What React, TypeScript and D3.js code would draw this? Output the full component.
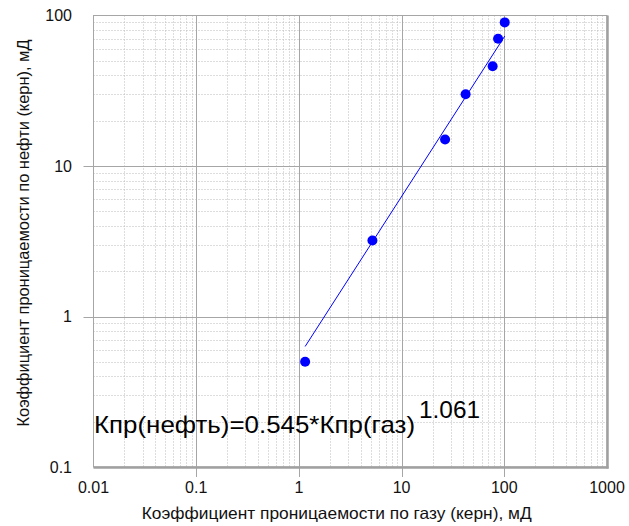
import React from "react";
import * as d3 from "d3";

const gasPerm = [1.15, 5.2, 26.5, 42, 77, 87, 101];
const oilPerm = [0.5, 3.2, 15, 30, 46, 70, 90];
const xTickLabels = ["0.01", "0.1", "1", "10", "100", "1000"];
const yTickLabels = ["0.1", "1", "10", "100"];
const coefA = 0.545;
const coefB = 1.061;
const formulaMain = "Кпр(нефть)=0.545*Кпр(газ)";
const formulaExp = "1.061";
const xTitle = "Коэффициент проницаемости по газу (керн), мД";
const yTitle = "Коэффициент проницаемости по нефти (керн), мД";

const W = 629;
const H = 526;
const left = 93.5;
const right = 607;
const top = 15.5;
const bottom = 467;
const font = "'Liberation Sans', Arial, sans-serif";
const gridCol = "#a6a6a6";
const dotCol = "#bababa";

export default function App() {
  const x = d3.scaleLog().domain([0.01, 1000]).range([left, right]);
  const y = d3.scaleLog().domain([0.1, 100]).range([bottom, top]);

  const xVals = xTickLabels.map(Number);
  const yVals = yTickLabels.map(Number);

  const minorX: number[] = [];
  for (let i = 0; i < xVals.length - 1; i++)
    for (let k = 2; k <= 9; k++) minorX.push(xVals[i] * k);
  const minorY: number[] = [];
  for (let i = 0; i < yVals.length - 1; i++)
    for (let k = 2; k <= 9; k++) minorY.push(yVals[i] * k);

  const xMin = d3.min(gasPerm) as number;
  const xMax = d3.max(gasPerm) as number;
  const fitX = [xMin, xMax];
  const line = d3
    .line<number>()
    .x((d) => x(d))
    .y((d) => y(coefA * Math.pow(d, coefB)));

  return (
    <svg width={W} height={H} style={{ position: "absolute", left: 0, top: 0, background: "#fff" }}>
      <rect x={0} y={0} width={W} height={H} fill="#fff" />
      {/* minor grid */}
      {minorX.map((v, i) => (
        <line key={"mx" + i} x1={Math.round(x(v)) + 0.5} x2={Math.round(x(v)) + 0.5} y1={top} y2={bottom}
          stroke={dotCol} strokeWidth={1} strokeDasharray="1,2" />
      ))}
      {minorY.map((v, i) => (
        <line key={"my" + i} y1={Math.round(y(v)) + 0.5} y2={Math.round(y(v)) + 0.5} x1={left} x2={right}
          stroke={dotCol} strokeWidth={1} strokeDasharray="1,2" />
      ))}
      {/* major grid + ticks */}
      {xVals.slice(1, -1).map((v, i) => (
        <line key={"Mx" + i} x1={Math.round(x(v)) + 0.5} x2={Math.round(x(v)) + 0.5} y1={top} y2={bottom + 10}
          stroke={gridCol} strokeWidth={1} />
      ))}
      {yVals.slice(1, -1).map((v, i) => (
        <line key={"My" + i} y1={Math.round(y(v)) + 0.5} y2={Math.round(y(v)) + 0.5} x1={left - 10} x2={right}
          stroke={gridCol} strokeWidth={1} />
      ))}
      {/* frame */}
      <rect x={left} y={top} width={right - left} height={bottom - top} fill="none" stroke={gridCol} strokeWidth={1} />
      <line x1={left} x2={right + 1.5} y1={bottom + 0.5} y2={bottom + 0.5} stroke="#a0a0a0" strokeWidth={2.5} />
      <line x1={right + 0.5} x2={right + 0.5} y1={top} y2={bottom + 1.5} stroke="#a0a0a0" strokeWidth={2.5} />

      {/* tick labels */}
      {xVals.map((v, i) => (
        <text key={"xl" + i} x={x(v)} y={493} textAnchor="middle" fontFamily={font} fontSize={16} fill="#111">
          {xTickLabels[i]}
        </text>
      ))}
      {yVals.map((v, i) => (
        <text key={"yl" + i} x={72} y={y(v) + 5.8} textAnchor="end" fontFamily={font} fontSize={16} fill="#111">
          {yTickLabels[i]}
        </text>
      ))}

      {/* axis titles */}
      <text x={336.7} y={519} textAnchor="middle" fontFamily={font} fontSize={16.5} fill="#111"
        textLength={390} lengthAdjust="spacingAndGlyphs">
        {xTitle}
      </text>
      <text transform="translate(29,233) rotate(-90)" textAnchor="middle" fontFamily={font} fontSize={16.5} fill="#111"
        textLength={387} lengthAdjust="spacingAndGlyphs">
        {yTitle}
      </text>

      {/* fit line */}
      <path d={line(fitX) || ""} fill="none" stroke="#0000ff" strokeWidth={1} />
      {/* points */}
      {gasPerm.map((g, i) => (
        <circle key={"p" + i} cx={x(g)} cy={y(oilPerm[i])} r={5} fill="#0000ff" />
      ))}

      {/* formula */}
      <text x={94} y={433} fontFamily={font} fontSize={24} fill="#000"
        textLength={321} lengthAdjust="spacingAndGlyphs">
        {formulaMain}
      </text>
      <text x={419} y={418} fontFamily={font} fontSize={23} fill="#000"
        textLength={61} lengthAdjust="spacingAndGlyphs">
        {formulaExp}
      </text>
    </svg>
  );
}
